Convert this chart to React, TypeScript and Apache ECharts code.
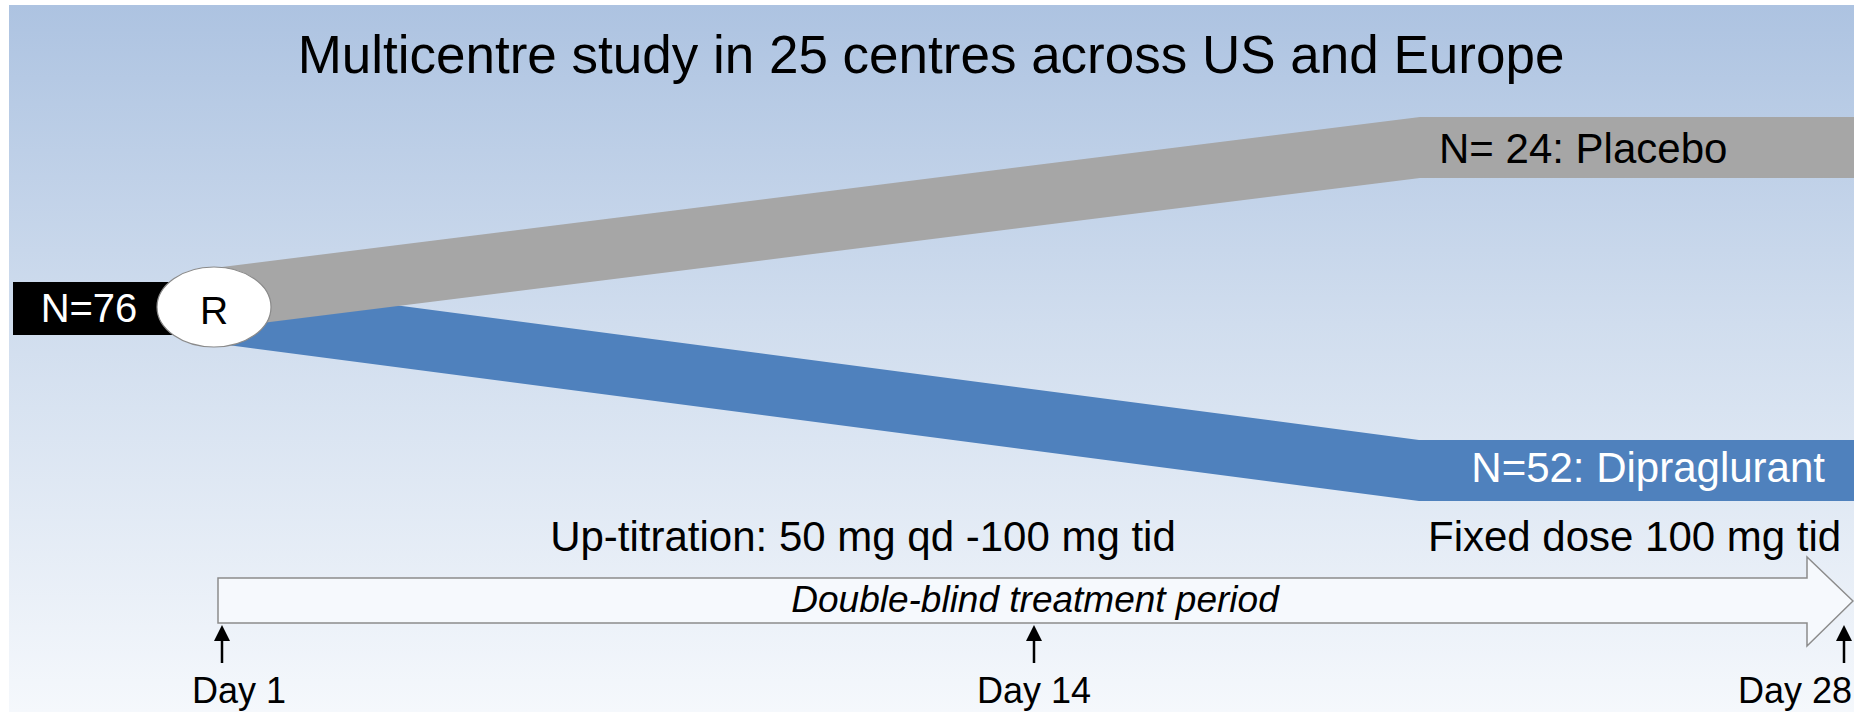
import React, { useEffect, useRef } from "react";
import * as echarts from "echarts";

const titleText = "Multicentre study in 25 centres across US and Europe";
const totalLabel = "N=76";
const randomLabel = "R";
const armLabels = ["N= 24: Placebo", "N=52: Dipraglurant"];
const armColors = ["#a6a6a6", "#4f81bd"];
const armTextColors = ["#000000", "#ffffff"];
const phaseLabels = ["Up-titration: 50 mg qd -100 mg tid", "Fixed dose 100 mg tid"];
const periodLabel = "Double-blind treatment period";
const dayLabels = ["Day 1", "Day 14", "Day 28"];

const FONT = '"Liberation Sans", Arial, sans-serif';

export default function App() {
  const ref = useRef<HTMLDivElement>(null);

  useEffect(() => {
    if (!ref.current) return;
    const chart = echarts.init(ref.current, null, { renderer: "svg" });

    const W = 1854;
    const H = 712;

    const bandPts = [
      [[190, 271], [1420, 117], [W, 117], [W, 178], [1420, 178], [190, 332]],
      [[190, 278], [1419, 440], [W, 440], [W, 501], [1419, 501], [190, 340]],
    ];
    const armText = [
      { x: 1439, y: 148, align: "left" },
      { x: 1825, y: 467, align: "right" },
    ];
    const dayX = [222, 1034, 1844];
    const dayTextPos = [
      { x: 192, align: "left" },
      { x: 1034, align: "center" },
      { x: 1852, align: "right" },
    ];

    const txt = (
      text: string,
      x: number,
      y: number,
      size: number,
      fill = "#000",
      align = "center",
      italic = false,
      z = 10
    ) => ({
      type: "text",
      z,
      style: {
        text,
        x,
        y,
        font: `${italic ? "italic " : ""}${size}px ${FONT}`,
        fill,
        textAlign: align,
        textVerticalAlign: "middle",
        align,
        verticalAlign: "middle",
      },
    });

    const graphics: any[] = [];
    graphics.push({
      type: "rect",
      z: 0,
      shape: { x: 9, y: 5, width: W - 9, height: H - 5 },
      style: {
        fill: new echarts.graphic.LinearGradient(0, 0, 0, 1, [
          { offset: 0, color: "#adc3e1" },
          { offset: 0.45, color: "#d0ddee" },
          { offset: 1, color: "#f5f8fc" },
        ]),
      },
    });
    graphics.push(txt(titleText, 931, 54, 53));

    [1, 0].forEach((i) => {
      graphics.push({
        type: "polygon",
        z: 2 + (1 - i),
        shape: { points: bandPts[i] },
        style: { fill: armColors[i] },
      });
      graphics.push(
        txt(armLabels[i], armText[i].x, armText[i].y, 42, armTextColors[i], armText[i].align)
      );
    });

    graphics.push({
      type: "rect",
      z: 4,
      shape: { x: 13, y: 282, width: 190, height: 53 },
      style: { fill: "#000" },
    });
    graphics.push(txt(totalLabel, 89, 308, 40, "#fff"));
    graphics.push({
      type: "ellipse",
      z: 5,
      shape: { cx: 214, cy: 307, rx: 57, ry: 40 },
      style: { fill: "#fff", stroke: "#8a8a8a", lineWidth: 1.2 },
    });
    graphics.push(txt(randomLabel, 214, 310, 39, "#000", "center", false, 11));

    graphics.push(txt(phaseLabels[0], 863, 536, 42));
    graphics.push(txt(phaseLabels[1], 1428, 536, 42, "#000", "left"));

    graphics.push({
      type: "polygon",
      z: 3,
      shape: {
        points: [
          [218, 578], [1807, 578], [1807, 557], [1853, 601],
          [1807, 646], [1807, 623], [218, 623],
        ],
      },
      style: { fill: "#f6f9fd", stroke: "#8c8c8c", lineWidth: 1.5 },
    });
    graphics.push(txt(periodLabel, 1035, 599, 37, "#000", "center", true));

    dayLabels.forEach((d, i) => {
      const x = dayX[i];
      graphics.push({
        type: "line",
        z: 6,
        shape: { x1: x, y1: 636, x2: x, y2: 663 },
        style: { stroke: "#000", lineWidth: 2.5 },
      });
      graphics.push({
        type: "polygon",
        z: 6,
        shape: { points: [[x, 625], [x + 8, 641], [x - 8, 641]] },
        style: { fill: "#000" },
      });
      graphics.push(txt(d, dayTextPos[i].x, 690, 36, "#000", dayTextPos[i].align));
    });

    chart.setOption({
      animation: false,
      graphic: { elements: graphics },
    });

    return () => chart.dispose();
  }, []);

  return (
    <div
      ref={ref}
      style={{ position: "fixed", left: 0, top: 0, width: 1854, height: 712, background: "#fff" }}
    />
  );
}
